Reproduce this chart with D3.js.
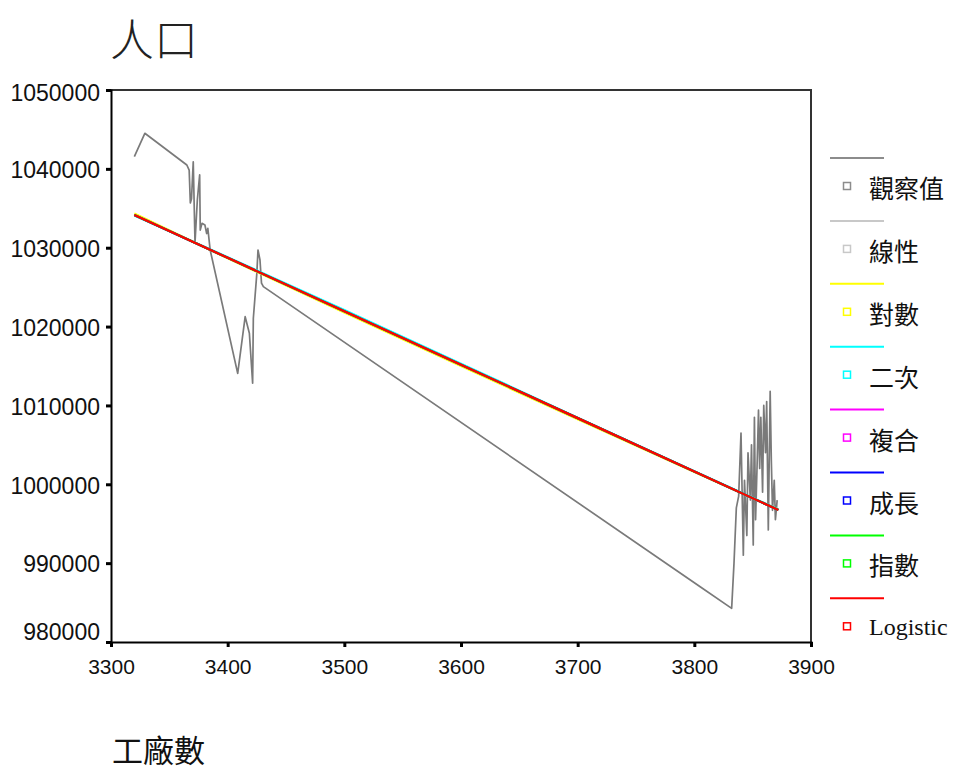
<!DOCTYPE html>
<html>
<head>
<meta charset="utf-8">
<script src="https://cdn.jsdelivr.net/npm/d3@7/dist/d3.min.js"></script>
<style>
  html, body { margin: 0; padding: 0; background: #fff; }
  svg { display: block; }
</style>
</head>
<body>
<svg id="chart" width="955" height="771"></svg>
<script>
// ---------------- data ----------------
const title = "人口";
const xLabel = "工廠數";
const xTicks = [3300, 3400, 3500, 3600, 3700, 3800, 3900];
const yTicks = [980000, 990000, 1000000, 1010000, 1020000, 1030000, 1040000, 1050000];

// observed (觀察值)
const obsX = [3320, 3329, 3365, 3367, 3368, 3369, 3370.5, 3372, 3374, 3376, 3376.5, 3378, 3380.5, 3382, 3383, 3385,
  3408.6, 3415, 3418.6, 3421.4, 3422, 3425, 3426, 3427.7, 3429, 3430.6,
  3805, 3832, 3834, 3836, 3838, 3840, 3842, 3843, 3845, 3846, 3848, 3849, 3850.5, 3851.5, 3852.5, 3854, 3855, 3856,
  3857, 3858.5, 3859.5, 3861, 3862, 3863.4, 3865, 3866, 3867, 3868.5, 3869.5, 3871];
const obsY = [1041540, 1044510, 1040490, 1039850, 1035670, 1036200, 1040900, 1030600, 1036050, 1039230, 1032240, 1033090, 1032880, 1031800, 1032460, 1029710,
  1014070, 1021250, 1019150, 1012810, 1021050, 1026750, 1029710, 1028440, 1025500, 1025060,
  987010, 984270, 990000, 997000, 998500, 1006500, 991000, 1000500, 993500, 1004000, 998000, 1005000, 992300, 1008500, 995500, 1003500, 1009400, 1002000,
  1008500, 999000, 1010000, 1004000, 1010500, 994200, 1011800, 1003000, 996700, 1000500, 995500, 998000];

// fitted curves, evaluated at fitX
const fitX = [3320, 3400, 3500, 3600, 3700, 3800, 3872];
const linearY = [1034150, 1028730, 1021950, 1015170, 1008400, 1001620, 996740];
const logY = [1034350, 1028650, 1021800, 1015000, 1008250, 1001550, 996800];
const quadY = [1034100, 1028800, 1022100, 1015300, 1008450, 1001650, 996800];
const compoundY = [1034150, 1028720, 1021940, 1015160, 1008390, 1001620, 996750];
const growthY = [1034150, 1028720, 1021940, 1015160, 1008390, 1001620, 996750];
const expY = [1034150, 1028720, 1021940, 1015160, 1008390, 1001620, 996750];
const logisticY = [1034150, 1028720, 1021940, 1015160, 1008390, 1001620, 996750];

const seriesNames = ["觀察值", "線性", "對數", "二次", "複合", "成長", "指數", "Logistic"];
const seriesColors = ["#8c8c8c", "#c8c8c8", "#ffff00", "#00ffff", "#ff00ff", "#0000ff", "#00ff00", "#ff0000"];

// ---------------- chart ----------------
const svg = d3.select("#chart");
const mLeft = 111, mRight = 811, mTop = 90, mBottom = 642;

const x = d3.scaleLinear().domain([3300, 3900]).range([mLeft, mRight]);
const y = d3.scaleLinear().domain([980000, 1050000]).range([mBottom, mTop]);

// title
svg.append("text")
  .attr("x", 110).attr("y", 37)
  .attr("dominant-baseline", "central")
  .attr("font-family", "'Noto Sans CJK TC', sans-serif")
  .attr("font-weight", 300)
  .attr("font-size", 44)
  .attr("fill", "#222")
  .text(title);

// frame top/right
svg.append("path")
  .attr("d", `M${mLeft},${mTop}H${mRight}V${mBottom}`)
  .attr("fill", "none").attr("stroke", "#333").attr("stroke-width", 2);

// y axis
const yAxis = svg.append("g")
  .attr("transform", `translate(${mLeft},0)`)
  .call(d3.axisLeft(y).tickValues(yTicks).tickFormat(d3.format("d")).tickSize(5).tickPadding(6));
yAxis.select(".domain").attr("stroke", "#000").attr("stroke-width", 2);
yAxis.selectAll(".tick line").attr("stroke", "#000").attr("stroke-width", 3);
yAxis.selectAll(".tick text")
  .attr("font-family", "'Liberation Sans', Arial, sans-serif")
  .attr("font-size", 23).attr("fill", "#111")
  .attr("dy", d => d === 980000 ? "-0.1em" : (d === 1050000 ? "0.45em" : "0.38em"));

// x axis
const xAxis = svg.append("g")
  .attr("transform", `translate(0,${mBottom})`)
  .call(d3.axisBottom(x).tickValues(xTicks).tickFormat(d3.format("d")).tickSize(5).tickPadding(12));
xAxis.select(".domain").attr("stroke", "#000").attr("stroke-width", 2);
xAxis.selectAll(".tick line").attr("stroke", "#000").attr("stroke-width", 3);
xAxis.selectAll(".tick text")
  .attr("font-family", "'Liberation Sans', Arial, sans-serif")
  .attr("font-size", 21).attr("fill", "#111");

// x label
svg.append("text")
  .attr("x", 112).attr("y", 748)
  .attr("dominant-baseline", "central")
  .attr("font-family", "'Noto Sans CJK TC', sans-serif")
  .attr("font-size", 31)
  .attr("fill", "#111")
  .text(xLabel);

// lines
const line = d3.line().x(d => x(d[0])).y(d => y(d[1]));
const obsData = obsX.map((v, i) => [v, obsY[i]]);
svg.append("path").datum(obsData)
  .attr("d", line).attr("fill", "none")
  .attr("stroke", "#7a7a7a").attr("stroke-width", 1.7).attr("stroke-linejoin", "round");

const fits = [linearY, logY, quadY, compoundY, growthY, expY, logisticY];
fits.forEach((ys, k) => {
  svg.append("path").datum(fitX.map((v, i) => [v, ys[i]]))
    .attr("d", line).attr("fill", "none")
    .attr("stroke", seriesColors[k + 1]).attr("stroke-width", 2.2);
});

// legend
const lg = svg.append("g");
seriesNames.forEach((name, i) => {
  const ly = 158 + i * 62.9;
  lg.append("line").attr("x1", 830).attr("x2", 884).attr("y1", ly).attr("y2", ly)
    .attr("stroke", seriesColors[i]).attr("stroke-width", 2);
  lg.append("rect").attr("x", 843.5).attr("y", ly + 24.5).attr("width", 7).attr("height", 7)
    .attr("fill", "#fff").attr("stroke", seriesColors[i]).attr("stroke-width", 1.5);
  lg.append("text").attr("x", 869).attr("y", ly + 29)
    .attr("dominant-baseline", "central")
    .attr("font-family", name === "Logistic" ? "'Liberation Serif', serif" : "'Noto Sans CJK TC', sans-serif")
    .attr("font-size", name === "Logistic" ? 24 : 25)
    .attr("fill", "#111")
    .text(name);
});
</script>
</body>
</html>
